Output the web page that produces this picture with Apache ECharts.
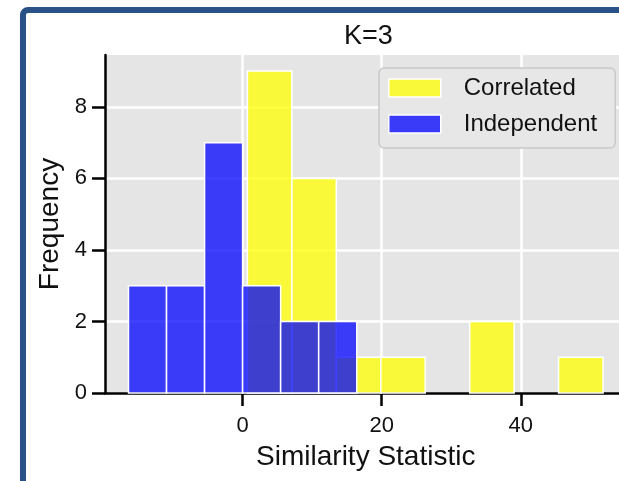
<!DOCTYPE html>
<html>
<head>
<meta charset="utf-8">
<script src="https://cdn.jsdelivr.net/npm/echarts@6/dist/echarts.min.js"></script>
<style>
html,body{margin:0;padding:0;background:#fff;}
#chart{width:619px;height:481px;}
</style>
</head>
<body>
<div id="chart"></div>
<script>
// ---- Data ----
const seriesNames = ['Correlated', 'Independent'];
const correlatedEdges = [0.68, 7.07, 13.46, 19.86, 26.25, 32.65, 39.04, 45.43, 51.83];
const correlatedCounts = [9, 6, 1, 1, 0, 2, 0, 1];
const independentEdges = [-16.42, -10.95, -5.48, -0.01, 5.46, 10.93, 16.41];
const independentCounts = [3, 3, 7, 3, 2, 2];
const xTickValues = [0, 20, 40];
const yTickValues = [0, 2, 4, 6, 8];
const titleText = 'K=3';
const xAxisTitle = 'Similarity Statistic';
const yAxisTitle = 'Frequency';

const yellow = 'rgba(255,255,0,0.75)';
const blue = 'rgba(0,0,255,0.75)';
const font = 'Liberation Sans, Arial, sans-serif';

function toBins(edges, counts) {
  return counts.map((c, i) => [edges[i], edges[i + 1], c]);
}

function renderBar(fill) {
  return function (params, api) {
    const c = api.value(2);
    if (!c) return null;
    const p0 = api.coord([api.value(0), c]);
    const p1 = api.coord([api.value(1), 0]);
    return {
      type: 'rect',
      shape: { x: p0[0], y: p0[1], width: p1[0] - p0[0], height: p1[1] - p0[1] },
      style: { fill: fill, stroke: '#ffffff', lineWidth: 1.5 }
    };
  };
}

const chart = echarts.init(document.getElementById('chart'), null, { renderer: 'canvas' });

const option = {
  backgroundColor: '#ffffff',
  animation: false,
  textStyle: { fontFamily: font },
  title: {
    text: titleText,
    left: 339,
    top: 18,
    textStyle: { fontFamily: font, fontSize: 27, fontWeight: 'normal', color: '#111' }
  },
  legend: {
    orient: 'vertical',
    left: 379,
    top: 68,
    padding: [8, 18, 12, 9],
    itemWidth: 52,
    itemHeight: 18,
    itemGap: 12,
    backgroundColor: '#e7e7e7',
    borderColor: '#c9c9c9',
    borderWidth: 1.5,
    borderRadius: 5,
    textStyle: { fontFamily: font, fontSize: 24, color: '#111', padding: [0, 0, 0, 18] },
    data: [
      { name: seriesNames[0], icon: 'rect', itemStyle: { color: yellow, borderColor: '#fff', borderWidth: 1.5 } },
      { name: seriesNames[1], icon: 'rect', itemStyle: { color: blue, borderColor: '#fff', borderWidth: 1.5 } }
    ]
  },
  grid: {
    left: 105,
    top: 55,
    width: 521.5,
    height: 338,
    outerBoundsMode: 'none',
    containLabel: false,
    show: true,
    backgroundColor: '#e5e5e5',
    borderWidth: 0
  },
  xAxis: {
    type: 'value',
    min: -19.8,
    max: 55.2,
    splitNumber: 3,
    name: xAxisTitle,
    nameLocation: 'middle',
    nameGap: 50,
    nameTextStyle: { fontFamily: font, fontSize: 28, color: '#111' },
    axisLine: { show: true, onZero: false, lineStyle: { color: '#000', width: 2.5 } },
    axisTick: { show: true, length: 13, customValues: xTickValues, lineStyle: { color: '#000', width: 2.5 } },
    axisLabel: { customValues: xTickValues, margin: 22, fontFamily: font, fontSize: 22, color: '#111' },
    splitLine: { show: true, lineStyle: { color: '#ffffff', width: 2.5 } }
  },
  yAxis: {
    type: 'value',
    min: 0,
    max: 9.45,
    interval: 2,
    name: yAxisTitle,
    nameLocation: 'middle',
    nameGap: 37,
    nameTextStyle: { fontFamily: font, fontSize: 28, color: '#111' },
    axisLine: { show: true, onZero: false, lineStyle: { color: '#000', width: 2.5 } },
    axisTick: { show: true, length: 13, customValues: yTickValues, lineStyle: { color: '#000', width: 2.5 } },
    axisLabel: { customValues: yTickValues, margin: 18, fontFamily: font, fontSize: 22, color: '#111' },
    splitLine: { show: true, lineStyle: { color: '#ffffff', width: 2.5 } }
  },
  graphic: [
    {
      type: 'rect',
      z: 100,
      shape: { x: 23, y: 10, width: 700, height: 600, r: 5 },
      style: { fill: 'none', stroke: '#2b5286', lineWidth: 6 }
    }
  ],
  series: [
    {
      name: seriesNames[0],
      type: 'custom',
      renderItem: renderBar(yellow),
      itemStyle: { color: yellow },
      encode: { x: [0, 1], y: 2 },
      data: toBins(correlatedEdges, correlatedCounts),
      z: 2
    },
    {
      name: seriesNames[1],
      type: 'custom',
      renderItem: renderBar(blue),
      itemStyle: { color: blue },
      encode: { x: [0, 1], y: 2 },
      data: toBins(independentEdges, independentCounts),
      z: 3
    }
  ]
};

chart.setOption(option);
</script>
</body>
</html>
